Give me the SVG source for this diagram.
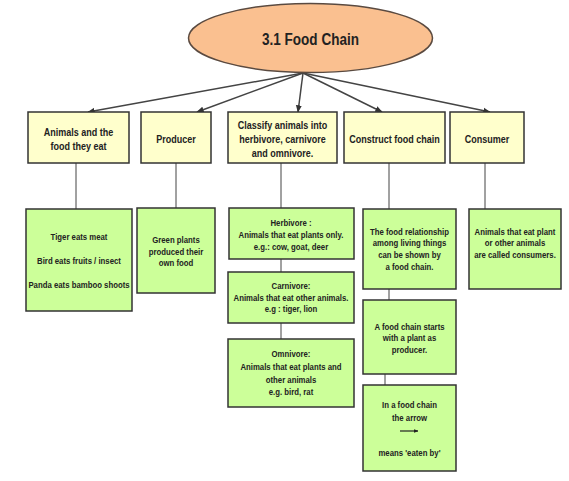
<svg xmlns="http://www.w3.org/2000/svg" width="569" height="481" viewBox="0 0 569 481">
<defs>
<marker id="ah" viewBox="0 0 10 10" refX="9" refY="5" markerWidth="5" markerHeight="5" orient="auto"><path d="M0,1 L10,5 L0,9 z" fill="#333"/></marker>
<marker id="ah2" viewBox="0 0 10 10" refX="9" refY="5" markerWidth="4" markerHeight="4" orient="auto"><path d="M0,1 L10,5 L0,9 z" fill="#222"/></marker>
<style>
.y{fill:#FFFFCC;stroke:#333;stroke-width:1.5}
.g{fill:#CCFF99;stroke:#333;stroke-width:1.5}
.t{font-family:"Liberation Sans",Arial,sans-serif;font-weight:bold;fill:#222;text-anchor:middle}
.h{font-size:11px}
.s{font-size:9.5px}
.c{stroke:#444;stroke-width:1.5;fill:none}
.v{stroke:#444;stroke-width:1;fill:none}
</style>
</defs>
<rect width="569" height="481" fill="#fff"/>
<g id="connectors">
<line class="c" x1="303" y1="73" x2="88" y2="112" marker-end="url(#ah)"/>
<line class="c" x1="303" y1="73" x2="197" y2="112" marker-end="url(#ah)"/>
<line class="c" x1="303" y1="73" x2="298" y2="112" marker-end="url(#ah)"/>
<line class="c" x1="303" y1="73" x2="382" y2="112" marker-end="url(#ah)"/>
<line class="c" x1="303" y1="73" x2="490" y2="112" marker-end="url(#ah)"/>
<line class="v" x1="76" y1="163" x2="76" y2="209"/>
<line class="v" x1="176" y1="163" x2="176" y2="208"/>
<line class="v" x1="281" y1="163" x2="281" y2="208"/>
<line class="v" x1="281" y1="259" x2="281" y2="272"/>
<line class="v" x1="281" y1="323" x2="281" y2="339"/>
<line class="v" x1="389" y1="163" x2="389" y2="209"/>
<line class="v" x1="389" y1="289" x2="389" y2="300"/>
<line class="v" x1="385" y1="374" x2="385" y2="385"/>
<line class="v" x1="485" y1="163" x2="485" y2="209"/>
</g>
<g id="title">
<ellipse cx="310.5" cy="38" rx="122" ry="34.5" fill="#FAC090" stroke="#5a4a40" stroke-width="1.5"/>
<g transform="scale(0.82 1)">
<text class="t" x="378.66" y="45" font-size="16.5">3.1 Food Chain</text>
</g>
</g>
<g id="animals-food">
<rect class="y" x="28" y="112" width="101" height="51"/>
<g transform="scale(0.82 1)">
<text class="t h" x="95.73" y="136">Animals and the</text>
<text class="t h" x="95.73" y="150">food they eat</text>
</g>
</g>
<g id="producer">
<rect class="y" x="141" y="112" width="70" height="51"/>
<g transform="scale(0.82 1)">
<text class="t h" x="214.63" y="143">Producer</text>
</g>
</g>
<g id="classify">
<rect class="y" x="228" y="112" width="109" height="51"/>
<g transform="scale(0.82 1)">
<text class="t h" x="344.51" y="129">Classify animals into</text>
<text class="t h" x="344.51" y="143">herbivore, carnivore</text>
<text class="t h" x="344.51" y="157">and omnivore.</text>
</g>
</g>
<g id="construct">
<rect class="y" x="344" y="112" width="101" height="51"/>
<g transform="scale(0.82 1)">
<text class="t h" x="481.10" y="143">Construct food chain</text>
</g>
</g>
<g id="consumer">
<rect class="y" x="450" y="112" width="74" height="51"/>
<g transform="scale(0.82 1)">
<text class="t h" x="593.90" y="143">Consumer</text>
</g>
</g>
<g id="examples">
<rect class="g" x="26" y="209" width="106" height="102"/>
<g transform="scale(0.82 1)">
<text class="t s" x="96.34" y="240">Tiger eats meat</text>
<text class="t s" x="96.34" y="264">Bird eats fruits / insect</text>
<text class="t s" x="96.34" y="288">Panda eats bamboo shoots</text>
</g>
</g>
<g id="green-plants">
<rect class="g" x="137" y="208" width="78" height="85"/>
<g transform="scale(0.82 1)">
<text class="t s" x="214.63" y="243">Green plants</text>
<text class="t s" x="214.63" y="255">produced their</text>
<text class="t s" x="214.63" y="266">own food</text>
</g>
</g>
<g id="herbivore">
<rect class="g" x="229" y="208" width="125" height="51"/>
<g transform="scale(0.82 1)">
<text class="t s" x="354.88" y="226">Herbivore :</text>
<text class="t s" x="354.88" y="238">Animals that eat plants only.</text>
<text class="t s" x="354.88" y="250">e.g.: cow, goat, deer</text>
</g>
</g>
<g id="carnivore">
<rect class="g" x="228" y="272" width="126" height="51"/>
<g transform="scale(0.82 1)">
<text class="t s" x="354.88" y="289">Carnivore:</text>
<text class="t s" x="354.88" y="301">Animals that eat other animals.</text>
<text class="t s" x="354.88" y="312">e.g : tiger, lion</text>
</g>
</g>
<g id="omnivore">
<rect class="g" x="228" y="339" width="126" height="68"/>
<g transform="scale(0.82 1)">
<text class="t s" x="354.88" y="357">Omnivore:</text>
<text class="t s" x="354.88" y="370">Animals that eat plants and</text>
<text class="t s" x="354.88" y="383">other animals</text>
<text class="t s" x="354.88" y="395">e.g. bird, rat</text>
</g>
</g>
<g id="food-relationship">
<rect class="g" x="363" y="209" width="93" height="80"/>
<g transform="scale(0.82 1)">
<text class="t s" x="499.39" y="235">The food relationship</text>
<text class="t s" x="499.39" y="246">among living things</text>
<text class="t s" x="499.39" y="258">can be shown by</text>
<text class="t s" x="499.39" y="270">a food chain.</text>
</g>
</g>
<g id="chain-starts">
<rect class="g" x="363" y="300" width="93" height="74"/>
<g transform="scale(0.82 1)">
<text class="t s" x="499.39" y="330">A food chain starts</text>
<text class="t s" x="499.39" y="341">with a plant  as</text>
<text class="t s" x="499.39" y="353">producer.</text>
</g>
</g>
<g id="arrow-meaning">
<rect class="g" x="363" y="385" width="93" height="86"/>
<g transform="scale(0.82 1)">
<text class="t s" x="499.39" y="408">In a food chain</text>
<text class="t s" x="499.39" y="421">the arrow</text>
<text class="t s" x="499.39" y="456">means 'eaten by'</text>
</g>
<line x1="400" y1="431" x2="418" y2="431" stroke="#222" stroke-width="1.2" marker-end="url(#ah2)"/>
</g>
<g id="consumers-def">
<rect class="g" x="469" y="209" width="92" height="80"/>
<g transform="scale(0.82 1)">
<text class="t s" x="628.05" y="235">Animals that eat plant</text>
<text class="t s" x="628.05" y="246">or other animals</text>
<text class="t s" x="628.05" y="258">are called consumers.</text>
</g>
</g>
</svg>
